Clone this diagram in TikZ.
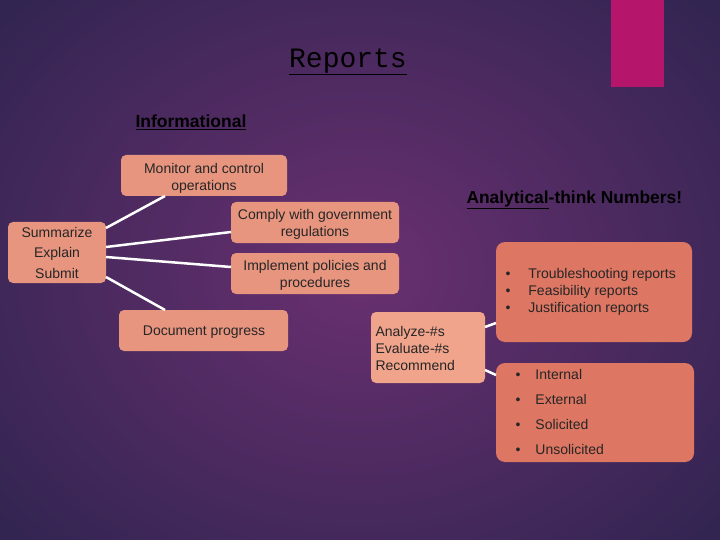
\documentclass[tikz,border=0pt]{standalone}
\usepackage{fontspec}
\setmainfont{Liberation Sans}
\newfontfamily\monof{Liberation Mono}
\definecolor{bgd}{HTML}{2E2450}
\definecolor{bgl}{HTML}{6A3070}
\definecolor{boxa}{HTML}{E8957F}
\definecolor{boxb}{HTML}{F0A48C}
\definecolor{boxc}{HTML}{DD7662}
\definecolor{mag}{HTML}{B5166B}
\begin{document}
\begin{tikzpicture}[x=1pt,y=-1pt,
  bx/.style={fill=boxa,rounded corners=5pt,draw=none},
  lbl/.style={font=\fontsize{14}{17}\selectfont,text=black!85,align=center},
  ln/.style={white,line width=2.5pt}]
\useasboundingbox (0,0) rectangle (720,540);
\shade[inner color=bgl,outer color=bgd] (-150,-150) rectangle (870,690);
\fill[mag] (611,0) rectangle (664,87);
\node[font=\monof\fontsize{28}{30}\selectfont] (title) at (348,62) {\underline{Reports}};
\node[font=\bfseries\fontsize{17.5}{19}\selectfont,anchor=west] (inf) at (132,122) {\underline{Informational}};
\node[font=\bfseries\fontsize{17.4}{19}\selectfont,anchor=west] (ana) at (463,200) {\underline{Analytical}-think Numbers!};
% boxes
\path[bx] (8,222) rectangle (106,283);
\path[bx] (121,155) rectangle (287,196);
\path[bx] (231,202) rectangle (399,243);
\path[bx] (231,253) rectangle (399,294);
\path[bx] (119,310) rectangle (288,351);
\path[bx,fill=boxb] (371,312) rectangle (485,383);
\path[bx,fill=boxc,rounded corners=9pt] (496,242) rectangle (692,342);
\path[bx,fill=boxc,rounded corners=9pt] (496,363) rectangle (694,462);
\coordinate (s1) at (106,228); \coordinate (m) at (165,196);
\coordinate (s2) at (106,247); \coordinate (c) at (231,232);
\coordinate (s3) at (106,257); \coordinate (i) at (231,267);
\coordinate (s4) at (106,277); \coordinate (d) at (165,310);
\coordinate (a1) at (485,327); \coordinate (t) at (496,323);
\coordinate (a2) at (485,370); \coordinate (u) at (496,375);
\draw[ln] (s1)--(m); \draw[ln] (s2)--(c); \draw[ln] (s3)--(i); \draw[ln] (s4)--(d);
\draw[ln] (a1)--(t); \draw[ln] (a2)--(u);
\node[lbl] (sum) at (57,252.5) {Summarize\\[3.5pt]Explain\\[3.5pt]Submit};
\node[lbl] (mon) at (204,178) {Monitor and control\\operations};
\node[lbl] (com) at (315,224) {Comply with government\\regulations};
\node[lbl] (imp) at (315,275) {Implement policies and\\procedures};
\node[lbl] (doc) at (204,332) {Document progress};
\node[lbl,align=left,anchor=north west] (anz) at (372,323) {Analyze-\#s\\Evaluate-\#s\\Recommend};
\node[lbl,align=left,anchor=north west] (tr) at (502,265) {\textbullet\hspace{18pt}Troubleshooting reports\\\textbullet\hspace{18pt}Feasibility reports\\\textbullet\hspace{18pt}Justification reports};
\node[lbl,align=left,anchor=north west] (in) at (512,366) {\textbullet\hspace{15pt}Internal\\[8pt]\textbullet\hspace{15pt}External\\[8pt]\textbullet\hspace{15pt}Solicited\\[8pt]\textbullet\hspace{15pt}Unsolicited};
\end{tikzpicture}
\end{document}
